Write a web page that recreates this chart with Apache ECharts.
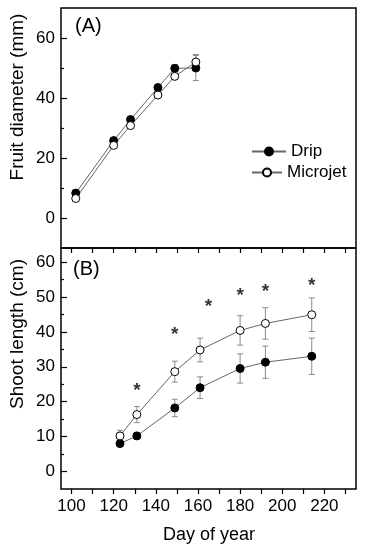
<!DOCTYPE html>
<html><head><meta charset="utf-8">
<script src="https://cdn.jsdelivr.net/npm/echarts@6/dist/echarts.min.js"></script>
<style>html,body{margin:0;padding:0;background:#fff}#c{width:369px;height:550px}</style>
</head><body><div id="c"></div>
<script>
// ---- Data ----
const daysA = [102, 120, 128, 141, 149, 159];
const dripA = [8.3, 25.8, 32.8, 43.5, 49.9, 50.0];
const dripAErr = [0.8, 0.8, 0.8, 0.9, 1.2, 4.2];
const microA = [6.5, 24.2, 30.8, 41.0, 47.2, 52.0];
const microAErr = [0.8, 0.8, 0.8, 0.8, 1.0, 2.5];

const daysB = [123, 131, 149, 161, 180, 192, 214];
const dripB = [8.0, 10.2, 18.2, 24.0, 29.5, 31.3, 33.0];
const dripBErr = [0.8, 1.0, 2.5, 3.1, 4.2, 4.6, 5.2];
const microB = [10.2, 16.3, 28.6, 34.8, 40.4, 42.4, 44.9];
const microBErr = [1.6, 2.3, 3.0, 3.4, 4.2, 4.5, 4.8];

const starDays = [131, 149, 165, 180, 192, 214];
const starVals = [24.4, 40.2, 48.2, 51.6, 52.5, 54.2];

const xTickVals = [100, 110, 120, 130, 140, 150, 160, 170, 180, 190, 200, 210, 220, 230];
const xLabelVals = [100, 120, 140, 160, 180, 200, 220];
const yMajorA = [0, 20, 40, 60];
const yMinorA = [10, 30, 50];
const yMajorB = [0, 10, 20, 30, 40, 50, 60];
const yMinorB = [5, 15, 25, 35, 45, 55];

const FONT = "'Liberation Sans', Arial, sans-serif";
const X_MIN = 95, X_MAX = 235;

// ---- Helpers ----
function errSeries(gi, days, vals, errs) {
  return {
    type: 'custom', xAxisIndex: gi * 2, yAxisIndex: gi * 3, z: 1, silent: true,
    data: days.map((d, i) => [d, vals[i] - errs[i], vals[i] + errs[i]]),
    encode: { x: 0, y: [1, 2] },
    renderItem(params, api) {
      const x = api.value(0);
      const lo = api.coord([x, api.value(1)]);
      const hi = api.coord([x, api.value(2)]);
      const w = 3;
      const st = { stroke: '#8a8a8a', lineWidth: 1 };
      return { type: 'group', children: [
        { type: 'line', shape: { x1: lo[0], y1: lo[1], x2: hi[0], y2: hi[1] }, style: st },
        { type: 'line', shape: { x1: lo[0] - w, y1: lo[1], x2: lo[0] + w, y2: lo[1] }, style: st },
        { type: 'line', shape: { x1: hi[0] - w, y1: hi[1], x2: hi[0] + w, y2: hi[1] }, style: st }
      ]};
    }
  };
}
function lineSeries(gi, name, days, vals, filled) {
  return {
    type: 'line', name, xAxisIndex: gi * 2, yAxisIndex: gi * 3, z: 3,
    data: days.map((d, i) => [d, vals[i]]),
    symbol: 'circle', symbolSize: 8,
    lineStyle: { color: '#666', width: 1 },
    itemStyle: { color: filled ? '#000' : '#fff', borderColor: '#000', borderWidth: 1 },
    emphasis: { disabled: true }
  };
}
const noLine = { show: false, onZero: false };
function xAxes(gi, showLabels) {
  return [{
    type: 'value', gridIndex: gi, min: X_MIN, max: X_MAX, position: 'bottom',
    axisLine: noLine,
    axisTick: { show: true, inside: false, length: 5, customValues: xTickVals, lineStyle: { color: '#000', width: 1.2 } },
    axisLabel: { show: false },
    splitLine: { show: false }
  }, {
    type: 'value', gridIndex: gi, min: X_MIN, max: X_MAX, position: 'bottom',
    axisLine: noLine,
    axisTick: { show: false },
    axisLabel: { show: showLabels, customValues: xLabelVals, margin: 9, fontSize: 17, color: '#000', fontFamily: FONT },
    splitLine: { show: false }
  }];
}
function yAxes(gi, min, max, majors, minors) {
  return [{
    type: 'value', gridIndex: gi, min, max, position: 'left',
    axisLine: noLine,
    axisTick: { show: true, inside: true, length: 6, customValues: majors, lineStyle: { color: '#000', width: 1.2 } },
    axisLabel: { show: false },
    splitLine: { show: false }
  }, {
    type: 'value', gridIndex: gi, min, max, position: 'left',
    axisLine: noLine,
    axisTick: { show: true, inside: true, length: 3, customValues: minors, lineStyle: { color: '#000', width: 1.2 } },
    axisLabel: { show: false },
    splitLine: { show: false }
  }, {
    type: 'value', gridIndex: gi, min, max, position: 'left',
    axisLine: noLine,
    axisTick: { show: false },
    axisLabel: { show: true, customValues: majors, margin: 6, fontSize: 17, color: '#000', fontFamily: FONT },
    splitLine: { show: false }
  }];
}

const chart = echarts.init(document.getElementById('c'), null, { renderer: 'canvas' });
chart.setOption({
  animation: false,
  backgroundColor: '#fff',
  textStyle: { fontFamily: FONT },
  grid: [
    { left: 61, top: 8, width: 295, height: 240, show: true, borderColor: '#000', borderWidth: 1.5, backgroundColor: 'transparent' },
    { left: 61, top: 248, width: 295, height: 241, show: true, borderColor: '#000', borderWidth: 1.5, backgroundColor: 'transparent' }
  ],
  xAxis: [...xAxes(0, false), ...xAxes(1, true)],
  yAxis: [...yAxes(0, -10, 70, yMajorA, yMinorA), ...yAxes(1, -5, 64, yMajorB, yMinorB)],
  legend: [
    { data: ['Drip'], left: 246, top: 138, itemWidth: 34, itemHeight: 10, selectedMode: false,
      textStyle: { fontSize: 17, color: '#000', fontFamily: FONT } },
    { data: ['Microjet'], left: 246, top: 159, itemWidth: 30, itemHeight: 10, selectedMode: false,
      textStyle: { fontSize: 17, color: '#000', fontFamily: FONT } }
  ],
  graphic: [
    { type: 'text', left: 75, top: 16, style: { text: '(A)', fontSize: 20, fill: '#000', fontFamily: FONT } },
    { type: 'text', left: 73, top: 259, style: { text: '(B)', fontSize: 20, fill: '#000', fontFamily: FONT } },
    { type: 'text', x: 18, y: 97, rotation: Math.PI / 2,
      style: { text: 'Fruit diameter (mm)', fontSize: 19, fill: '#000', fontFamily: FONT, align: 'center', verticalAlign: 'middle' } },
    { type: 'text', x: 18, y: 334, rotation: Math.PI / 2,
      style: { text: 'Shoot length (cm)', fontSize: 19, fill: '#000', fontFamily: FONT, align: 'center', verticalAlign: 'middle' } },
    { type: 'text', x: 209, y: 535, style: { text: 'Day of year', fontSize: 18, fill: '#000', fontFamily: FONT, align: 'center', verticalAlign: 'middle' } }
  ],
  series: [
    errSeries(0, daysA, dripA, dripAErr),
    errSeries(0, daysA, microA, microAErr),
    lineSeries(0, 'Drip', daysA, dripA, true),
    lineSeries(0, 'Microjet', daysA, microA, false),
    errSeries(1, daysB, dripB, dripBErr),
    errSeries(1, daysB, microB, microBErr),
    lineSeries(1, 'Drip', daysB, dripB, true),
    lineSeries(1, 'Microjet', daysB, microB, false),
    {
      type: 'scatter', xAxisIndex: 2, yAxisIndex: 3, z: 4, silent: true,
      data: starDays.map((d, i) => [d, starVals[i]]),
      symbolSize: 0,
      label: { show: true, position: 'inside', formatter: '*', fontSize: 19, fontWeight: 'bold', color: '#000', offset: [0, 4], fontFamily: FONT }
    }
  ]
});
</script>
</body></html>
